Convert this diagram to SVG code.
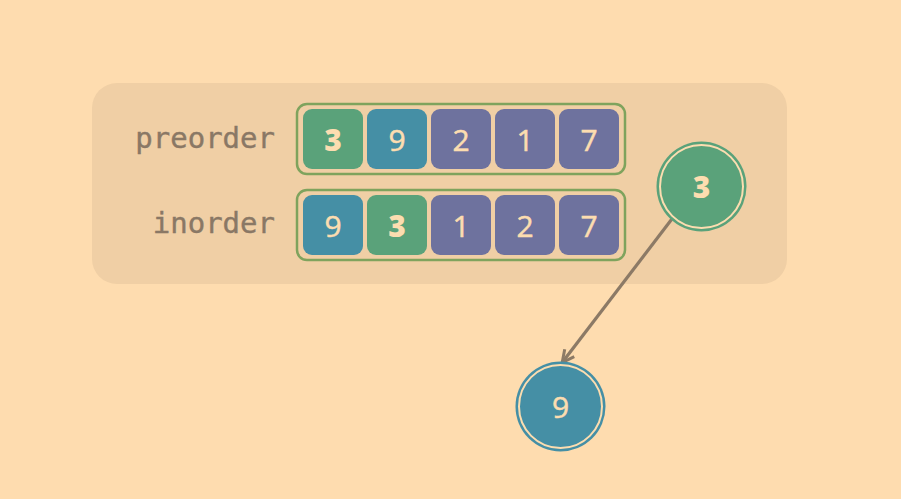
<svg xmlns="http://www.w3.org/2000/svg" width="901" height="499" viewBox="0 0 901 499">
<defs>
<style>
.lbl{font-family:"DejaVu Sans Mono","Liberation Mono",monospace;font-size:29px;fill:#8A7865;stroke:#8A7865;stroke-width:0.4;text-anchor:end}
.num{font-family:"Open Sans","Noto Sans",sans-serif;font-size:30px;font-weight:500;fill:#FCDDB0;stroke:#FCDDB0;stroke-width:0.5;text-anchor:middle;dominant-baseline:central}
.b{font-weight:800;stroke-width:0}
.arr{fill:none;stroke:#7FA35D;stroke-width:2.5}
.g{fill:#5AA27A}.t{fill:#458FA5}.p{fill:#6E729E}
.ring{fill:none;stroke:#FCDDB0;stroke-width:2}
.edge{stroke:#8C7A66;stroke-width:3.2;fill:none}
</style>
<marker id="ah" viewBox="0 0 16 16" refX="14" refY="8" markerWidth="16" markerHeight="16" markerUnits="userSpaceOnUse" orient="auto">
<path d="M2,2 L14,8 L2,14" fill="none" stroke="#8C7A66" stroke-width="3"/>
</marker>
</defs>
<rect width="901" height="499" fill="#FEDCAF"/>
<rect id="panel" x="92" y="83" width="695" height="201" rx="25" fill="#F0CFA5"/>
<g id="preorder">
<text class="lbl" x="275" y="148">preorder</text>
<rect class="arr" x="297" y="104" width="328" height="70" rx="10"/>
<rect class="g" x="303" y="109" width="60" height="60" rx="9"/>
<rect class="t" x="367" y="109" width="60" height="60" rx="9"/>
<rect class="p" x="431" y="109" width="60" height="60" rx="9"/>
<rect class="p" x="495" y="109" width="60" height="60" rx="9"/>
<rect class="p" x="559" y="109" width="60" height="60" rx="9"/>
<text class="num b" x="333" y="139">3</text>
<text class="num" x="397" y="139">9</text>
<text class="num" x="461" y="139">2</text>
<text class="num" x="525" y="139">1</text>
<text class="num" x="589" y="139">7</text>
</g>
<g id="inorder">
<text class="lbl" x="275" y="233">inorder</text>
<rect class="arr" x="297" y="190" width="328" height="70" rx="10"/>
<rect class="t" x="303" y="195" width="60" height="60" rx="9"/>
<rect class="g" x="367" y="195" width="60" height="60" rx="9"/>
<rect class="p" x="431" y="195" width="60" height="60" rx="9"/>
<rect class="p" x="495" y="195" width="60" height="60" rx="9"/>
<rect class="p" x="559" y="195" width="60" height="60" rx="9"/>
<text class="num" x="333" y="225">9</text>
<text class="num b" x="397" y="225">3</text>
<text class="num" x="461" y="225">1</text>
<text class="num" x="525" y="225">2</text>
<text class="num" x="589" y="225">7</text>
</g>
<g id="connectors">
<line class="edge" x1="671.7" y1="219.3" x2="562.2" y2="362.5" marker-end="url(#ah)"/>
</g>
<g id="node3">
<circle class="g" cx="701.5" cy="186.5" r="45"/>
<circle class="ring" cx="701.5" cy="186.5" r="41.5"/>
<text class="num b" x="701.5" y="186.5">3</text>
</g>
<g id="node9">
<circle class="t" cx="560.5" cy="406.5" r="45"/>
<circle class="ring" cx="560.5" cy="406.5" r="41.5"/>
<text class="num" x="560.5" y="406.5">9</text>
</g>
</svg>
